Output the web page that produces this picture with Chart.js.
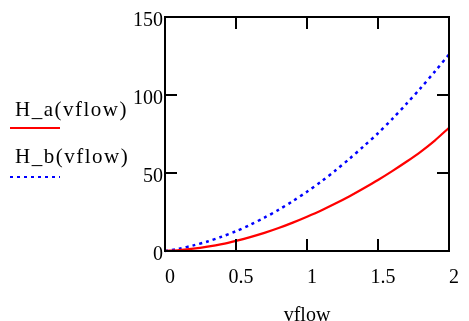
<!DOCTYPE html>
<html>
<head>
<meta charset="utf-8">
<script src="https://cdn.jsdelivr.net/npm/chart.js@4.4.1/dist/chart.umd.min.js"></script>
<style>
  body { margin: 0; background: #fff; }
  canvas { display: block; }
</style>
</head>
<body>
<canvas id="chartcanvas" width="469" height="321"></canvas>
<script>
// values
var vflow = [0, 0.1, 0.2, 0.3, 0.4, 0.5, 0.6, 0.7, 0.8, 0.9, 1.0,
             1.1, 1.2, 1.3, 1.4, 1.5, 1.6, 1.7, 1.8, 1.9, 2.0];
var H_a = [0, 0.6, 1.5, 2.8, 4.4, 6.5, 8.9, 11.6, 14.7, 18.2, 22,
           26, 30.4, 35.1, 40.2, 45.5, 51.2, 57.2, 63.6, 70.8, 79];
var H_b = [0, 1.5, 3.6, 6.1, 9.2, 12.7, 16.8, 21.4, 26.4, 32, 38,
           44.5, 51.6, 59.2, 67.2, 75.5, 84.6, 94.3, 104.4, 115, 126];
var seriesNames = ["H_a(vflow)", "H_b(vflow)"];
var xTicks = [0, 0.5, 1, 1.5, 2];
var yTicks = [0, 50, 100, 150];

var FONT = '"Liberation Serif", "DejaVu Serif", serif';

function pts(ys) {
	var out = [];
	for (var i = 0; i < vflow.length; i++) out.push({x: vflow[i], y: ys[i]});
	return out;
}

// box round the plot with inward ticks on every side
var framePlugin = {
	id: "frame",
	afterDatasetsDraw: function (chart) {
		var a = chart.chartArea, ctx = chart.ctx;
		var sx = chart.scales.x, sy = chart.scales.y;
		var len = 12;
		ctx.save();
		ctx.strokeStyle = "#000";
		ctx.lineWidth = 2;
		ctx.strokeRect(a.left, a.top, a.right - a.left, a.bottom - a.top);
		ctx.beginPath();
		xTicks.forEach(function (v) {
			var px = sx.getPixelForValue(v);
			ctx.moveTo(px, a.bottom); ctx.lineTo(px, a.bottom - len);
			ctx.moveTo(px, a.top); ctx.lineTo(px, a.top + len);
		});
		yTicks.forEach(function (v) {
			var py = sy.getPixelForValue(v);
			ctx.moveTo(a.left, py); ctx.lineTo(a.left + len, py);
			ctx.moveTo(a.right, py); ctx.lineTo(a.right - len, py);
		});
		ctx.stroke();
		ctx.restore();
	}
};

// legend on the left: name above, line sample below
var sideLegend = {
	id: "sideLegend",
	afterDraw: function (chart) {
		var ctx = chart.ctx;
		ctx.save();
		ctx.font = "21px " + FONT;
		ctx.letterSpacing = "1.5px";
		ctx.fillStyle = "#000";
		ctx.textBaseline = "middle";
		ctx.textAlign = "left";
		var rows = [{ty: 110, ly: 128}, {ty: 157, ly: 177}];
		chart.data.datasets.forEach(function (ds, i) {
			ctx.fillText(seriesNames[i], 15, rows[i].ty);
			ctx.beginPath();
			ctx.strokeStyle = ds.borderColor;
			ctx.lineWidth = 2;
			ctx.setLineDash(ds.borderDash || []);
			ctx.moveTo(10, rows[i].ly);
			ctx.lineTo(60, rows[i].ly);
			ctx.stroke();
		});
		ctx.restore();
	}
};

var ctx = document.getElementById("chartcanvas").getContext("2d");
var myChart = new Chart(ctx, {
	type: "line",
	data: {
		datasets: [
			{
				label: seriesNames[0],
				data: pts(H_a),
				borderColor: "#ff0000",
				borderWidth: 2.2,
				pointRadius: 0,
				tension: 0.3
			},
			{
				label: seriesNames[1],
				data: pts(H_b),
				borderColor: "#0000ff",
				borderWidth: 2.5,
				borderDash: [3, 4],
				pointRadius: 0,
				tension: 0.3
			}
		]
	},
	options: {
		responsive: false,
		animation: false,
		clip: false,
		layout: { padding: { left: 0, top: 17, right: 15, bottom: 0 } },
		plugins: { legend: { display: false }, tooltip: { enabled: false } },
		scales: {
			x: {
				type: "linear",
				min: 0, max: 2,
				grid: { display: false, drawTicks: false },
				border: { display: false },
				afterFit: function (s) { s.height = 70; },
				afterBuildTicks: function (s) { s.ticks = xTicks.map(function (v) { return {value: v}; }); },
				ticks: {
					color: "#000",
					font: { family: FONT, size: 20 },
					padding: 15,
					labelOffset: 5,
					maxRotation: 0,
					autoSkip: false,
					callback: function (v) { return String(v); }
				},
				title: {
					display: true,
					text: "vflow",
					color: "#000",
					font: { family: FONT, size: 20 },
					padding: { top: 18, bottom: -7 }
				}
			},
			y: {
				min: 0, max: 150,
				grid: { display: false, drawTicks: false },
				border: { display: false },
				afterFit: function (s) { s.width = 165; },
				afterBuildTicks: function (s) { s.ticks = yTicks.map(function (v) { return {value: v}; }); },
				ticks: {
					color: "#000",
					font: { family: FONT, size: 20 },
					padding: 2,
					labelOffset: 4,
					callback: function (v) { return String(v); }
				}
			}
		}
	},
	plugins: [framePlugin, sideLegend]
});

// redraw once the serif face is ready, in case the first pass fell back
if (document.fonts) {
	document.fonts.load('20px "Liberation Serif"').then(function () { myChart.update(); });
}
</script>
</body>
</html>
